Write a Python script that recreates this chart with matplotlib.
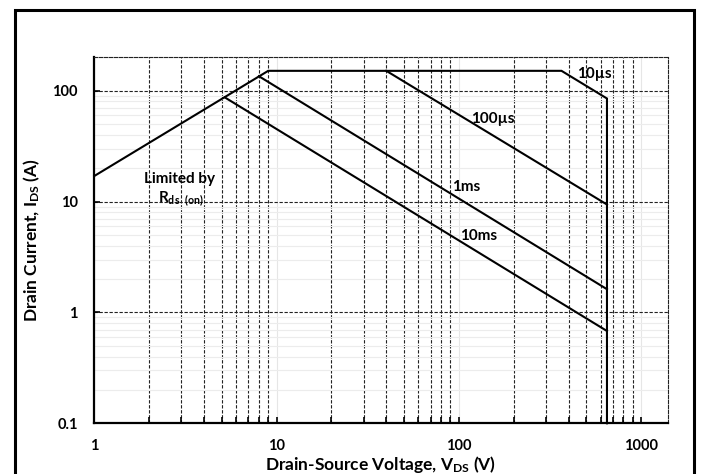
import numpy as np
import matplotlib
matplotlib.use("Agg")
import matplotlib.pyplot as plt
from matplotlib.patches import Rectangle
from matplotlib.ticker import FixedLocator, NullFormatter

plt.rcParams['font.family'] = ['Lato', 'DejaVu Sans']
plt.rcParams['font.weight'] = 'bold'
plt.rcParams['axes.labelweight'] = 'bold'
plt.rcParams['mathtext.fontset'] = 'custom'
plt.rcParams['mathtext.rm'] = 'Lato:bold'
plt.rcParams['mathtext.it'] = 'Lato:bold'
plt.rcParams['mathtext.bf'] = 'Lato:bold'

# safe operating area curves (V_DS in V, I_DS in A)
limit_v = [1, 9, 366, 650, 650]
limit_i = [17, 151, 151, 85, 0.1]
us100_v = [40, 650]
us100_i = [151, 9.4]
ms1_v = [8, 650]
ms1_i = [135, 1.62]
ms10_v = [5.2, 650]
ms10_i = [87, 0.68]

labels = ["10\u00b5s", "100\u00b5s", "1ms", "10ms"]
label_v = [555, 153, 110, 128]
label_i = [140, 56, 13.5, 4.85]

xticks = [1, 10, 100, 1000]
yticks = [0.1, 1, 10, 100]

fig = plt.figure(figsize=(7.02, 4.74), dpi=100)
ax = fig.add_axes([94.3/702, 1 - 423.3/474, (667.7-94.3)/702, (423.3-57.3)/474])

ax.set_xscale('log')
ax.set_yscale('log')
ax.set_xlim(1, 1400)
ax.set_ylim(0.1, 200)

dash = (0, (3, 1.5))
ax.xaxis.set_major_locator(FixedLocator(xticks))
ax.yaxis.set_major_locator(FixedLocator(yticks))
xminor = [m * d for d in [1, 10, 100] for m in range(2, 10)]
yminor = [m * d for d in [0.1, 1, 10, 100] for m in range(2, 10)]
ax.xaxis.set_minor_locator(FixedLocator(xminor))
ax.yaxis.set_minor_locator(FixedLocator(yminor))
ax.xaxis.set_minor_formatter(NullFormatter())
ax.yaxis.set_minor_formatter(NullFormatter())
ax.set_xticklabels(['1', '10', '100', '1000'])
ax.set_yticklabels(['0.1', '1', '10', '100'])

ax.grid(which='major', axis='x', color='#e6e6e6', lw=0.8, ls='-')
ax.grid(which='minor', axis='y', color='#ececec', lw=0.8, ls='-')
ax.grid(which='minor', axis='x', color='#222222', lw=0.8, ls=dash)
ax.grid(which='major', axis='y', color='#222222', lw=0.8, ls=dash)
ax.set_axisbelow(True)

ax.tick_params(which='major', direction='in', length=4, width=1.2, labelsize=10.5, pad=11)
ax.tick_params(which='minor', axis='x', direction='in', length=4, width=1.2)
ax.tick_params(which='minor', axis='y', length=0)
ax.tick_params(axis='y', pad=12)

for s in ['left', 'bottom']:
    ax.spines[s].set_linewidth(1.6)
for s in ['top', 'right']:
    ax.spines[s].set_linewidth(0.8)
    ax.spines[s].set_linestyle(dash)
    ax.spines[s].set_color('#222222')

for v, i in [(limit_v, limit_i), (us100_v, us100_i), (ms1_v, ms1_i), (ms10_v, ms10_i)]:
    ax.plot(v, i, color='black', lw=1.5, solid_joinstyle='miter', clip_on=False)

for t, v, i in zip(labels, label_v, label_i):
    ax.text(v, i, t, fontsize=11, ha='center', va='center')

ax.text(2.92, 16, "Limited by", fontsize=11, ha='center', va='center')
ax.text(3.0, 10.6, r"R$_{\mathrm{ds}\quad\!\!\mathrm{(on)}}$", fontsize=11, ha='center', va='center')

ax.set_xlabel(r"Drain-Source Voltage, V$_{\mathrm{DS}}$ (V)", fontsize=12.5, labelpad=1)
ax.set_ylabel(r"Drain Current, I$_{\mathrm{DS}}$ (A)", fontsize=12.5, labelpad=7)

fig.patches.append(Rectangle((15/702, -0.1), (694-15)/702, 1.1 - 10/474,
                             transform=fig.transFigure, fill=False,
                             edgecolor='black', lw=2.2))

fig.savefig("out.png", dpi=100)
